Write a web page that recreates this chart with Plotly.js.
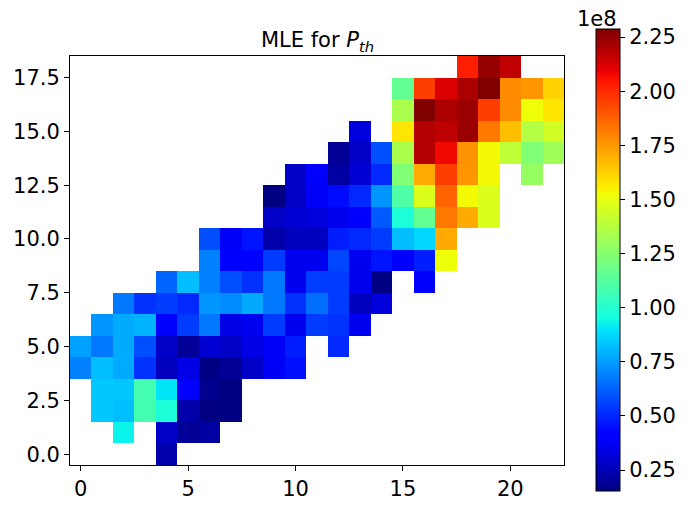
<!DOCTYPE html>
<html><head><meta charset="utf-8">
<script src="https://cdn.plot.ly/plotly-3.0.1.min.js"></script>
<style>html,body{margin:0;padding:0;background:#fff;}#plot{width:688px;height:505px;}</style>
</head><body><div id="plot"></div>
<script>
// values in units of 1e8, rows y=0..18, columns x=0..22 (null = no data)
const N = null;
const xVals = [0,1,2,3,4,5,6,7,8,9,10,11,12,13,14,15,16,17,18,19,20,21,22];
const yVals = [0,1,2,3,4,5,6,7,8,9,10,11,12,13,14,15,16,17,18];
const row0  = [N,N,N,N,0.23,N,N,N,N,N,N,N,N,N,N,N,N,N,N,N,N,N,N];
const row1  = [N,N,0.93,N,0.285,0.194,0.213,N,N,N,N,N,N,N,N,N,N,N,N,N,N,N,N];
const row2  = [N,0.838,0.817,1.08,0.977,0.23,0.153,0.157,N,N,N,N,N,N,N,N,N,N,N,N,N,N,N];
const row3  = [N,0.838,0.838,1.08,0.90,0.39,0.18,0.157,N,N,N,N,N,N,N,N,N,N,N,N,N,N,N];
const row4  = [0.691,0.817,0.776,0.524,0.268,0.341,0.16,0.194,0.285,0.37,0.45,N,N,N,N,N,N,N,N,N,N,N,N];
const row5  = [0.755,0.672,0.776,0.586,0.285,0.194,0.305,0.285,0.341,0.379,0.48,N,0.503,N,N,N,N,N,N,N,N,N,N];
const row6  = [N,0.733,0.776,0.795,0.39,0.546,0.672,0.341,0.36,0.546,0.36,0.546,0.524,0.36,N,N,N,N,N,N,N,N,N];
const row7  = [N,N,0.672,0.524,0.546,0.503,0.733,0.712,0.776,0.672,0.524,0.65,0.546,0.268,0.324,N,N,N,N,N,N,N,N];
const row8  = [N,N,N,N,0.629,0.817,0.691,0.586,0.524,0.672,0.36,0.55,0.546,0.36,0.157,N,0.39,N,N,N,N,N,N];
const row9  = [N,N,N,N,N,N,0.691,0.39,0.42,0.546,0.36,0.36,0.567,0.36,0.46,0.39,0.48,1.519,N,N,N,N,N];
const row10 = [N,N,N,N,N,N,0.586,0.379,0.46,0.23,0.268,0.268,0.48,0.503,0.546,0.817,0.87,1.711,N,N,N,N,N];
const row11 = [N,N,N,N,N,N,N,N,N,0.285,0.305,0.324,0.36,0.39,0.608,0.977,1.16,1.824,1.711,1.47,N,N,N];
const row12 = [N,N,N,N,N,N,N,N,N,0.157,0.285,0.375,0.441,0.503,0.733,1.107,1.47,1.869,1.53,1.47,N,N,N];
const row13 = [N,N,N,N,N,N,N,N,N,N,0.285,0.39,0.213,0.305,0.503,1.237,1.711,1.958,1.756,1.53,N,1.288,N];
const row14 = [N,N,N,N,N,N,N,N,N,N,N,N,0.194,0.285,0.586,1.342,2.191,2.08,1.766,1.53,1.393,1.237,1.316];
const row15 = [N,N,N,N,N,N,N,N,N,N,N,N,N,0.324,N,1.574,2.191,2.172,2.238,1.824,1.666,1.367,1.444];
const row16 = [N,N,N,N,N,N,N,N,N,N,N,N,N,N,N,1.342,2.287,2.21,2.238,1.958,1.779,1.519,1.574];
const row17 = [N,N,N,N,N,N,N,N,N,N,N,N,N,N,N,1.16,1.958,2.116,2.21,2.287,1.779,1.756,1.621];
const row18 = [N,N,N,N,N,N,N,N,N,N,N,N,N,N,N,N,N,N,2.027,2.246,2.172,N,N];
const zRows = [row0,row1,row2,row3,row4,row5,row6,row7,row8,row9,row10,row11,row12,row13,row14,row15,row16,row17,row18];
const zMin = 0.153, zMax = 2.287;
const cbTicks = [0.25,0.50,0.75,1.00,1.25,1.50,1.75,2.00,2.25];
const cbTickText = ["0.25","0.50","0.75","1.00","1.25","1.50","1.75","2.00","2.25"];
const xTicks = [0,5,10,15,20];
const yTicks = [0,2.5,5,7.5,10,12.5,15,17.5];
const yTickText = ["0.0","2.5","5.0","7.5","10.0","12.5","15.0","17.5"];

const jet = [
  [0,'rgb(0,0,128)'],[0.11,'rgb(0,0,255)'],[0.125,'rgb(0,0,255)'],
  [0.34,'rgb(0,219,255)'],[0.35,'rgb(0,229,247)'],[0.375,'rgb(20,255,226)'],
  [0.64,'rgb(238,255,8)'],[0.65,'rgb(247,245,0)'],[0.66,'rgb(255,236,0)'],
  [0.89,'rgb(255,19,0)'],[0.91,'rgb(232,0,0)'],[1,'rgb(128,0,0)']
];
const font = {family:'DejaVu Sans, sans-serif', size:21, color:'#000'};

const trace = {
  type:'heatmap', x:xVals, y:yVals, z:zRows,
  zmin:zMin, zmax:zMax, colorscale:jet, hoverongaps:false,
  colorbar:{
    x:1.062, xanchor:'left', xpad:0, y:0.501, yanchor:'middle',
    len:462, lenmode:'pixels', thickness:24, thicknessmode:'pixels',
    outlinewidth:1, outlinecolor:'#000',
    tickmode:'array', tickvals:cbTicks, ticktext:cbTickText,
    ticks:'outside', ticklen:5, tickwidth:1, tickcolor:'#000',
    tickfont:font, ypad:0
  }
};
const layout = {
  width:688, height:505,
  margin:{l:70, r:123, t:56, b:40},
  paper_bgcolor:'#fff', plot_bgcolor:'#fff',
  font:font,
  title:{text:'MLE for <i>P</i><sub><i>th</i></sub>', x:0.4615, xanchor:'center', xref:'container',
         y:0.921, yanchor:'middle', yref:'container', font:{family:'DejaVu Sans, sans-serif', size:21, color:'#000'}},
  xaxis:{range:[-0.5,22.5], tickmode:'array', tickvals:xTicks, ticks:'outside', ticklen:5, tickwidth:1,
         tickcolor:'#000', showline:true, linecolor:'#000', linewidth:1, mirror:true, showgrid:false,
         zeroline:false, tickfont:font},
  yaxis:{range:[-0.5,18.5], tickmode:'array', tickvals:yTicks, ticktext:yTickText, ticks:'outside', ticklen:5,
         tickwidth:1, tickcolor:'#000', showline:true, linecolor:'#000', linewidth:1, mirror:true,
         showgrid:false, zeroline:false, tickfont:font},
  annotations:[{text:'1e8', xref:'paper', yref:'paper', x:1.0667, y:1.09, xanchor:'center', yanchor:'middle',
                showarrow:false, font:{family:'DejaVu Sans, sans-serif', size:21, color:'#000'}}]
};
Plotly.newPlot('plot',[trace],layout,{displayModeBar:false, staticPlot:true});
</script></body></html>
